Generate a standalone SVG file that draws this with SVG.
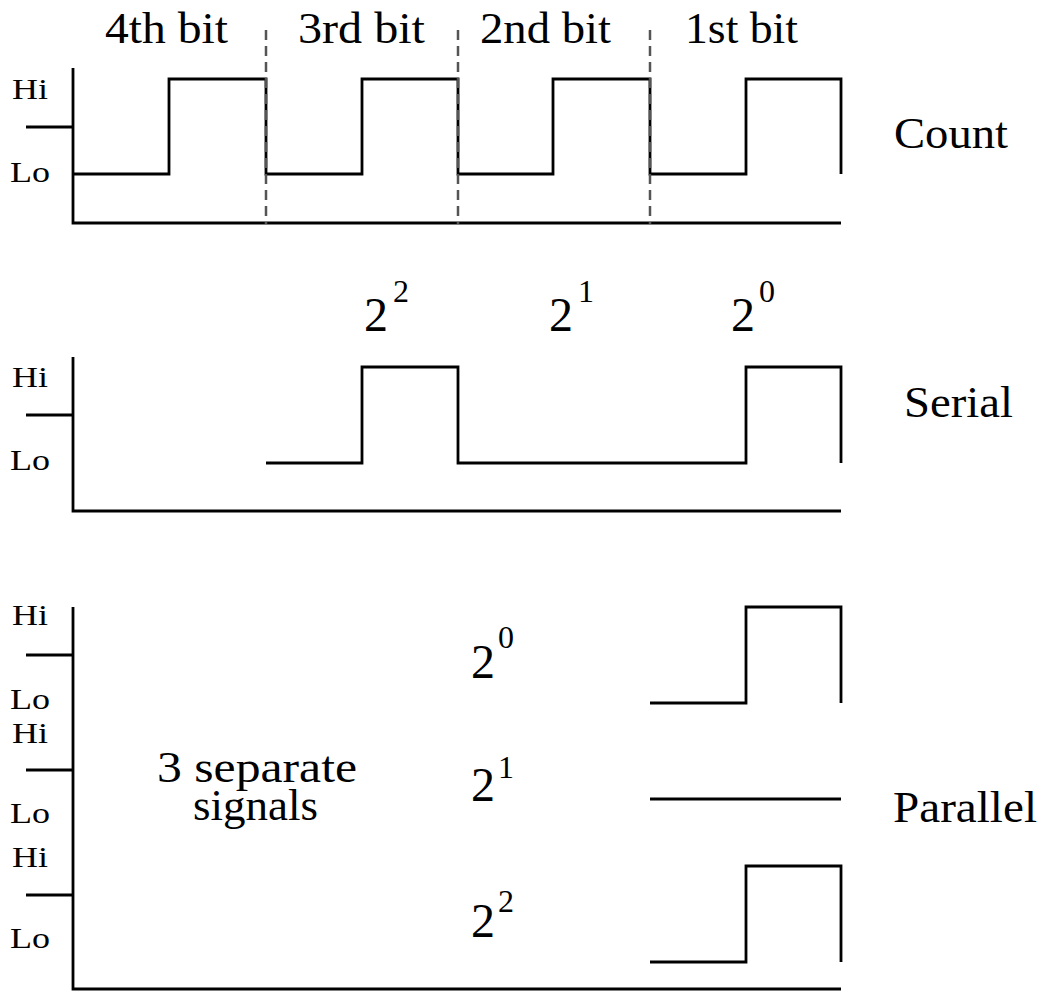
<svg xmlns="http://www.w3.org/2000/svg" width="1045" height="992" viewBox="0 0 1045 992">
<style>
.ln{fill:none;stroke:#000;stroke-width:2.8;stroke-linejoin:miter;stroke-linecap:butt}
.dash{fill:none;stroke:#555;stroke-width:2.5;stroke-dasharray:10 6}
.big{font-family:"Liberation Serif","Times New Roman",Times,serif;font-size:44px;fill:#000}
.exp{font-family:"Liberation Serif","Times New Roman",Times,serif;font-size:48px;fill:#000}
.sup{font-family:"Liberation Serif","Times New Roman",Times,serif;font-size:32px;fill:#000}
.sm{font-family:"Liberation Serif","Times New Roman",Times,serif;font-size:30px;fill:#000}
</style>
<rect width="1045" height="992" fill="#fff"/>
<g id="count">
<text class="big" x="105" y="43" textLength="123" lengthAdjust="spacingAndGlyphs">4th bit</text>
<text class="big" x="298" y="43" textLength="127" lengthAdjust="spacingAndGlyphs">3rd bit</text>
<text class="big" x="480" y="43" textLength="131" lengthAdjust="spacingAndGlyphs">2nd bit</text>
<text class="big" x="685" y="43" textLength="113" lengthAdjust="spacingAndGlyphs">1st bit</text>
<text class="sm" x="12" y="99" textLength="36" lengthAdjust="spacingAndGlyphs">Hi</text>
<text class="sm" x="10" y="182" textLength="40" lengthAdjust="spacingAndGlyphs">Lo</text>
<text class="big" x="894" y="148" textLength="114" lengthAdjust="spacingAndGlyphs">Count</text>
<path class="ln" d="M73 68 V223 H841 M26 127 H73"/>
<path class="ln" d="M73 174 H169 V79 H266 V174 H362 V79 H458 V174 H553 V79 H650 V174 H746 V79 H841 V174"/>
</g>
<g id="dividers">
<path class="dash" d="M266 30 V224 M458 30 V224 M650 30 V224"/>
</g>
<g id="serial">
<text class="exp" x="364" y="331">2</text><text class="sup" x="393" y="302">2</text>
<text class="exp" x="549" y="331">2</text><text class="sup" x="578" y="302">1</text>
<text class="exp" x="731" y="331">2</text><text class="sup" x="759" y="302">0</text>
<text class="sm" x="12" y="387" textLength="36" lengthAdjust="spacingAndGlyphs">Hi</text>
<text class="sm" x="10" y="470" textLength="40" lengthAdjust="spacingAndGlyphs">Lo</text>
<text class="big" x="904" y="417" textLength="109" lengthAdjust="spacingAndGlyphs">Serial</text>
<path class="ln" d="M73 357 V511 H841 M26 415 H73"/>
<path class="ln" d="M266 463 H362 V367 H458 V463 H746 V367 H841 V463"/>
</g>
<g id="parallel">
<text class="sm" x="12" y="625" textLength="36" lengthAdjust="spacingAndGlyphs">Hi</text>
<text class="sm" x="10" y="709" textLength="40" lengthAdjust="spacingAndGlyphs">Lo</text>
<text class="sm" x="12" y="743" textLength="36" lengthAdjust="spacingAndGlyphs">Hi</text>
<text class="sm" x="10" y="823" textLength="40" lengthAdjust="spacingAndGlyphs">Lo</text>
<text class="sm" x="12" y="867" textLength="36" lengthAdjust="spacingAndGlyphs">Hi</text>
<text class="sm" x="10" y="948" textLength="40" lengthAdjust="spacingAndGlyphs">Lo</text>
<text class="big" x="157" y="782" textLength="200" lengthAdjust="spacingAndGlyphs">3 separate</text>
<text class="big" x="193" y="820" textLength="125" lengthAdjust="spacingAndGlyphs">signals</text>
<text class="exp" x="471" y="678">2</text><text class="sup" x="498" y="648">0</text>
<text class="exp" x="471" y="801">2</text><text class="sup" x="498" y="778">1</text>
<text class="exp" x="471" y="937">2</text><text class="sup" x="498" y="912">2</text>
<text class="big" x="893" y="822" textLength="144" lengthAdjust="spacingAndGlyphs">Parallel</text>
<path class="ln" d="M73 607 V989 H841 M26 655 H73 M26 770 H73 M26 895 H73"/>
<path class="ln" d="M650 703 H746 V607 H841 V703"/>
<path class="ln" d="M650 799 H841"/>
<path class="ln" d="M650 962 H746 V866 H841 V962"/>
</g>
</svg>
